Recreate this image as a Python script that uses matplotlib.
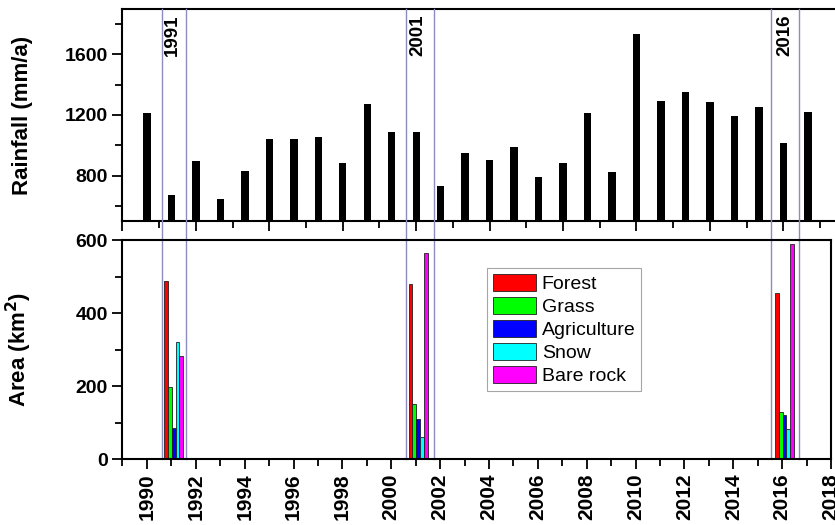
import matplotlib
matplotlib.use("Agg")
import matplotlib.pyplot as plt
import numpy as np
from matplotlib.ticker import MultipleLocator
from matplotlib.transforms import blended_transform_factory

plt.rcParams['font.family'] = ['Liberation Sans', 'DejaVu Sans']

# ---- data ----
years = list(range(1990, 2018))
rainfall = [1215, 674, 896, 643, 830, 1039, 1043, 1052, 883, 1271, 1088,
            1086, 731, 947, 903, 991, 793, 883, 1211, 821, 1733, 1292,
            1350, 1286, 1191, 1253, 1015, 1218]

area_years = [1991, 2001, 2016]
classes = ['Forest', 'Grass', 'Agriculture', 'Snow', 'Bare rock']
class_colors = ['#ff0000', '#00ff00', '#0000ff', '#00ffff', '#ff00ff']
forest = [488, 481, 454]
grass = [196, 152, 129]
agriculture = [86, 110, 120]
snow = [320, 59, 81]
bare_rock = [281, 565, 588]
area_series = [forest, grass, agriculture, snow, bare_rock]

marked_spans = [(1990.6, 1991.6), (2000.6, 2001.75), (2015.55, 2016.7)]
marked_labels = ['1991', '2001', '2016']

fig = plt.figure(figsize=(8.35, 5.25), dpi=100)
ax1 = fig.add_axes([0.1467, 0.579, 0.8533, 0.404])
ax2 = fig.add_axes([0.1467, 0.1257, 0.8485, 0.417])

# ---- top panel ----
ax1.bar(years, rainfall, width=0.3, color='black', bottom=0)
ax1.set_xlim(1989, 2018.11)
ax1.set_ylim(500, 1900)
ax1.yaxis.set_major_locator(MultipleLocator(400))
ax1.yaxis.set_minor_locator(MultipleLocator(200))
ax1.set_yticks([800, 1200, 1600])
ax1.xaxis.set_major_locator(MultipleLocator(3))
ax1.xaxis.set_minor_locator(MultipleLocator(1.5))
ax1.tick_params(axis='x', which='both', labelbottom=False, direction='out', width=1.3)
ax1.tick_params(axis='x', which='major', length=7)
ax1.tick_params(axis='x', which='minor', length=5)
ax1.tick_params(axis='y', which='major', length=7, width=1.3, labelsize=14)
ax1.tick_params(axis='y', which='minor', length=5, width=1.3)
ax1.spines['right'].set_visible(False)
for s in ['left', 'top', 'bottom']:
    ax1.spines[s].set_linewidth(1.5)
for lab in ax1.get_yticklabels():
    lab.set_fontweight('bold')
ax1.set_ylabel('Rainfall (mm/a)', fontsize=16, fontweight='bold')
ax1.yaxis.set_label_coords(-0.125, 0.5)

for lbl in marked_labels:
    ax1.text(float(lbl) + 0.05, 1865, lbl, rotation=90, ha='center', va='top',
             fontsize=13.5, fontweight='bold')

# ---- bottom panel ----
n = len(classes)
w = 0.155
for i, (name, vals, col) in enumerate(zip(classes, area_series, class_colors)):
    xs = np.array(area_years) + 0.1 + (i - (n - 1) / 2) * w
    ax2.bar(xs, vals, width=w, color=col, edgecolor='#202020', linewidth=0.6,
            label=name)
ax2.set_xlim(1989, 2018)
ax2.set_ylim(0, 600)
ax2.yaxis.set_major_locator(MultipleLocator(200))
ax2.yaxis.set_minor_locator(MultipleLocator(100))
ax2.xaxis.set_major_locator(MultipleLocator(2))
ax2.xaxis.set_minor_locator(MultipleLocator(1))
ax2.tick_params(axis='both', which='major', length=7, width=1.3, direction='out')
ax2.tick_params(axis='both', which='minor', length=5, width=1.3, direction='out')
ax2.tick_params(axis='y', labelsize=14)
ax2.tick_params(axis='x', labelsize=15, labelrotation=90)
for s in ax2.spines.values():
    s.set_linewidth(1.5)
for lab in ax2.get_yticklabels() + ax2.get_xticklabels():
    lab.set_fontweight('bold')
ax2.set_ylabel('Area (km$^\\mathbf{2}$)', fontsize=16, fontweight='bold')
ax2.yaxis.set_label_coords(-0.125, 0.5)

leg = ax2.legend(loc='upper left', bbox_to_anchor=(0.515, 0.871), borderaxespad=0,
                 fontsize=14, frameon=True, fancybox=False, edgecolor='#909090',
                 handlelength=2.2, handleheight=0.95, handletextpad=0.3,
                 labelspacing=0.2, borderpad=0.3)
leg.get_frame().set_linewidth(0.8)

# vertical marker lines spanning both panels
trans = blended_transform_factory(ax2.transData, ax2.transAxes)
top_frac = (459 - 9) / 219.0
for a, b in marked_spans:
    for x in (a, b):
        ax2.plot([x, x], [0, top_frac], transform=trans, color='#8c8cc0',
                 linewidth=1.0, clip_on=False, zorder=0.5)

fig.savefig('out.png', dpi=100)
